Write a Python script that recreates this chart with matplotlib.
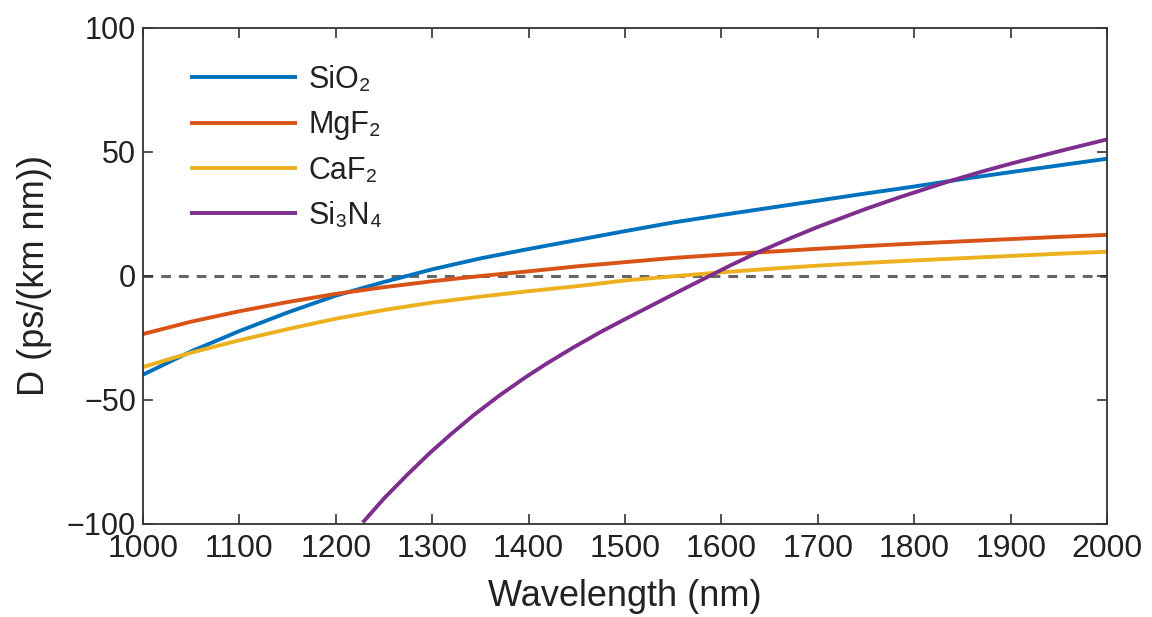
import matplotlib
matplotlib.use("Agg")
import matplotlib.pyplot as plt
import numpy as np

plt.rcParams['font.family'] = ['Liberation Sans', 'DejaVu Sans']

# Dispersion D (ps/(km nm)) vs wavelength (nm)
wl = [1000, 1050, 1100, 1150, 1200, 1250, 1300, 1350, 1400, 1450, 1500,
      1550, 1600, 1650, 1700, 1750, 1800, 1850, 1900, 1950, 2000]

d_sio2 = [-39.9, -30.5, -22.3, -14.8, -8.0, -2.5, 2.6, 7.0, 10.8, 14.4, 18.0,
          21.5, 24.5, 27.4, 30.3, 33.2, 36.0, 39.0, 41.8, 44.5, 47.2]
d_mgf2 = [-23.5, -18.5, -14.3, -10.6, -7.3, -4.6, -2.2, -0.1, 1.8, 3.8, 5.5,
          7.2, 8.5, 9.7, 10.9, 12.0, 13.0, 13.9, 14.8, 15.7, 16.5]
d_caf2 = [-36.8, -31.0, -26.0, -21.5, -17.3, -13.8, -10.8, -8.4, -6.2, -4.2, -1.9,
          -0.2, 1.4, 2.8, 4.1, 5.2, 6.2, 7.1, 8.0, 8.9, 9.7]

# Si3N4 leaves the bottom of the plot below ~1230 nm
wl_sin = [1228, 1250, 1275, 1298, 1320, 1343, 1370, 1398, 1420, 1446, 1475,
          1500, 1536, 1560, 1588, 1610, 1637, 1670, 1700, 1750, 1785, 1837,
          1870, 1900, 1950, 2000]
d_sin = [-99.5, -89.8, -79.9, -71.3, -63.7, -56.2, -48.2, -40.6, -35.1, -29.0, -22.6,
         -17.5, -10.3, -5.5, 0, 4.3, 9.3, 14.9, 19.7, 27.0, 31.7, 38.2,
         42.0, 45.2, 50.2, 55.0]

labels = ['SiO\u2082', 'MgF\u2082', 'CaF\u2082', 'Si\u2083N\u2084']
colors = ['#0072BD', '#D95319', '#EDB120', '#7E2F8E']

fig = plt.figure(figsize=(11.52, 6.17), dpi=100)
ax = fig.add_axes([0.124, 0.151, 0.837, 0.804])

ax.axhline(0, color='#666666', lw=2.2, dashes=(3.2, 2.6), zorder=1)

series = [(wl, d_sio2), (wl, d_mgf2), (wl, d_caf2), (wl_sin, d_sin)]
for (x, y), lab, c in zip(series, labels, colors):
    ax.plot(x, y, color=c, lw=2.8, label=lab, zorder=2,
            solid_joinstyle='round', solid_capstyle='butt')

ax.set_xlim(1000, 2000)
ax.set_ylim(-100, 100)
ax.set_xticks(np.arange(1000, 2001, 100))
ax.set_yticks([-100, -50, 0, 50, 100])

ax.tick_params(direction='in', length=7, width=1.2, color='#333333',
               top=True, right=True)
ax.tick_params(axis='y', labelsize=22, pad=5)
ax.tick_params(axis='x', labelsize=23, pad=7)
for t in ax.get_xticklabels() + ax.get_yticklabels():
    t.set_color('#222222')
for s in ax.spines.values():
    s.set_color('#333333')
    s.set_linewidth(1.3)

ax.set_xlabel('Wavelength (nm)', fontsize=26, labelpad=11, color='#222222')
ax.set_ylabel('D (ps/(km nm))', fontsize=26, labelpad=11, color='#222222')

leg = ax.legend(loc='upper left', bbox_to_anchor=(0.02, 0.98), frameon=False,
                fontsize=22, handlelength=3.5, handletextpad=0.4,
                labelspacing=0.5)
for t in leg.get_texts():
    t.set_color('#222222')

fig.savefig('out.png', dpi=100)
